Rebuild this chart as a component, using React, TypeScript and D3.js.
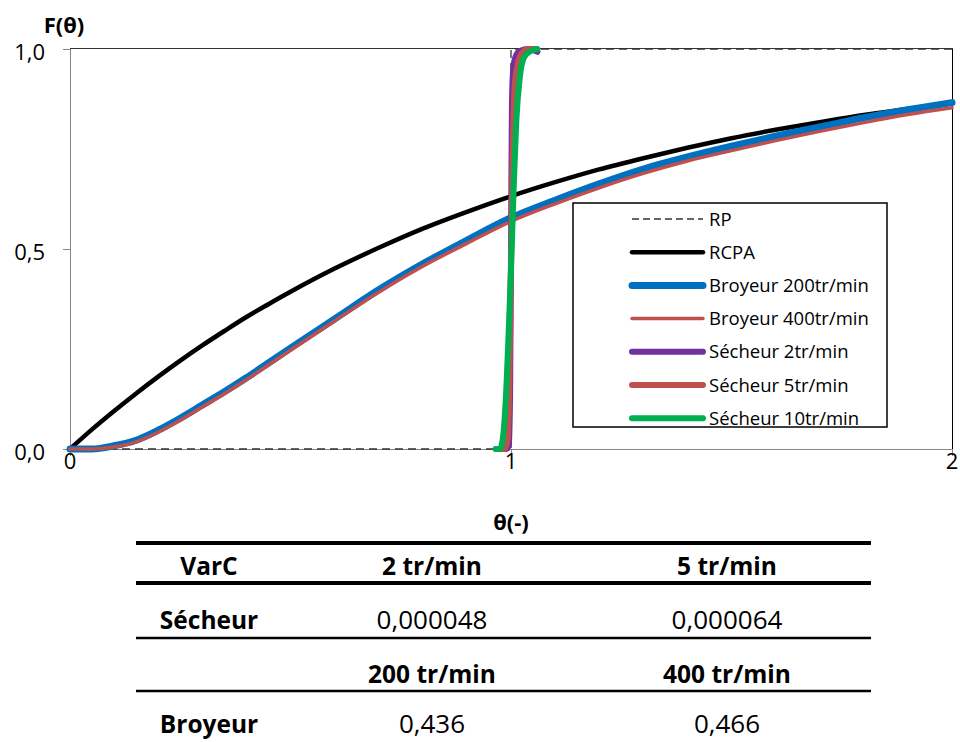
import React from "react";
import * as d3 from "d3";

// ---------- data ----------
const thetaGrid = [0, 0.05, 0.1, 0.15, 0.2, 0.25, 0.3, 0.35, 0.4, 0.45, 0.5, 0.6, 0.7, 0.8, 0.9, 1.0, 1.1, 1.2, 1.3, 1.4, 1.5, 1.6, 1.7, 1.8, 1.9, 2.0];
const rcpa = [0, 0.049, 0.095, 0.139, 0.181, 0.221, 0.259, 0.295, 0.33, 0.362, 0.393, 0.451, 0.503, 0.551, 0.593, 0.632, 0.667, 0.699, 0.727, 0.753, 0.777, 0.798, 0.817, 0.835, 0.85, 0.865];
const broyeur200 = [0, 0, 0.008, 0.022, 0.047, 0.077, 0.11, 0.143, 0.178, 0.215, 0.252, 0.325, 0.398, 0.463, 0.522, 0.578, 0.622, 0.663, 0.7, 0.73, 0.757, 0.782, 0.805, 0.828, 0.848, 0.866];
const broyeur400 = [0, 0, 0.005, 0.018, 0.042, 0.072, 0.105, 0.138, 0.173, 0.21, 0.247, 0.32, 0.392, 0.457, 0.514, 0.569, 0.613, 0.653, 0.689, 0.72, 0.746, 0.771, 0.794, 0.816, 0.836, 0.853];

const rpTheta = [0, 1, 1, 2];
const rpF = [0, 0, 1, 1];

const sech2Theta = [0.97, 0.99, 0.995, 0.998, 1.0, 1.002, 1.005, 1.01, 1.02, 1.04, 1.06];
const sech2F = [0, 0, 0.01, 0.15, 0.5, 0.85, 0.95, 0.98, 0.995, 1.0, 0.993];
const sech5Theta = [0.968, 0.985, 0.992, 0.996, 1.0, 1.004, 1.008, 1.015, 1.025, 1.04, 1.055];
const sech5F = [0, 0, 0.02, 0.15, 0.45, 0.75, 0.9, 0.96, 0.99, 1.0, 1.0];
const sech10Theta = [0.965, 0.975, 0.982, 0.988, 0.995, 1.0, 1.006, 1.012, 1.02, 1.03, 1.045, 1.06];
const sech10F = [0, 0, 0.03, 0.12, 0.3, 0.45, 0.65, 0.82, 0.93, 0.98, 0.995, 1.0];

const xTicks = [0, 1, 2];
const xTickLabels = ["0", "1", "2"];
const yTicks = [0, 0.5, 1];
const yTickLabels = ["0,0", "0,5", "1,0"];

const legendNames = ["RP", "RCPA", "Broyeur 200tr/min", "Broyeur 400tr/min", "Sécheur 2tr/min", "Sécheur 5tr/min", "Sécheur 10tr/min"];

const tableHeader1 = ["VarC", "2 tr/min", "5 tr/min"];
const tableRow1 = ["Sécheur", "0,000048", "0,000064"];
const tableHeader2 = ["", "200 tr/min", "400 tr/min"];
const tableRow2 = ["Broyeur", "0,436", "0,466"];

// ---------- styles ----------
const FONT = "'Open Sans', 'Noto Sans', sans-serif";
const styles = [
  { color: "#333333", width: 1.3, dash: "8,5" },
  { color: "#000000", width: 4.5, dash: null },
  { color: "#0070C0", width: 7, dash: null },
  { color: "#C0504D", width: 3.5, dash: null },
  { color: "#7030A0", width: 6, dash: null },
  { color: "#C0504D", width: 6, dash: null },
  { color: "#00B050", width: 6, dash: null },
];

export default function App() {
  const W = 960, H = 742;
  const x = d3.scaleLinear().domain([0, 2]).range([70, 952]);
  const y = d3.scaleLinear().domain([0, 1]).range([449, 49]);

  const smooth = d3.line<[number, number]>().x(d => x(d[0])).y(d => y(d[1])).curve(d3.curveMonotoneX);
  const straight = d3.line<[number, number]>().x(d => x(d[0])).y(d => y(d[1]));
  const zip = (a: number[], b: number[]) => a.map((v, i) => [v, b[i]] as [number, number]);

  const series = [
    { d: straight(zip(rpTheta, rpF)), s: styles[0] },
    { d: smooth(zip(thetaGrid, rcpa)), s: styles[1] },
    { d: smooth(zip(thetaGrid, broyeur200)), s: styles[2] },
    { d: smooth(zip(thetaGrid, broyeur400)), s: styles[3] },
    { d: smooth(zip(sech2Theta, sech2F)), s: styles[4] },
    { d: smooth(zip(sech5Theta, sech5F)), s: styles[5] },
    { d: smooth(zip(sech10Theta, sech10F)), s: styles[6] },
  ];

  const legX = 573, legY = 203, legW = 314, legH = 224;
  const rowY = (i: number) => 219 + i * 33.2;

  const colX = [209, 432, 727];
  const tableRows = [
    { cells: tableHeader1, y: 566, bold: [true, true, true] },
    { cells: tableRow1, y: 620, bold: [true, false, false] },
    { cells: tableHeader2, y: 674, bold: [true, true, true] },
    { cells: tableRow2, y: 724, bold: [true, false, false] },
  ];
  const tableLines = [
    { y: 543, w: 4 },
    { y: 583, w: 4 },
    { y: 638, w: 2.5 },
    { y: 691, w: 2.5 },
  ];

  return (
    <svg width={W} height={H} style={{ position: "absolute", left: 0, top: 0, background: "#fff" }} fontFamily={FONT}>
      <rect x={0} y={0} width={W} height={H} fill="#fff" />
      {/* plot frame */}
      <line x1={70} x2={952.5} y1={48.5} y2={48.5} stroke="#333" strokeWidth={1} />
      <line x1={952.5} x2={952.5} y1={48.5} y2={449} stroke="#000" strokeWidth={1} />
      {/* axes */}
      <line x1={70.5} x2={70.5} y1={49} y2={449.5} stroke="#868686" strokeWidth={1} />
      <line x1={70} x2={952} y1={449.5} y2={449.5} stroke="#868686" strokeWidth={1} />
      {yTicks.map((t, i) => (
        <g key={"yt" + i}>
          <line x1={63} x2={70} y1={Math.round(y(t)) + 0.5} y2={Math.round(y(t)) + 0.5} stroke="#868686" />
          <text x={45} y={y(t) + 11} textAnchor="end" fontSize={22} fill="#000">{yTickLabels[i]}</text>
        </g>
      ))}
      {xTicks.map((t, i) => (
        <g key={"xt" + i}>
          <line x1={Math.round(x(t)) + 0.5} x2={Math.round(x(t)) + 0.5} y1={449} y2={456} stroke="#868686" />
          <text x={x(t)} y={469} textAnchor="middle" fontSize={22} fill="#000">{xTickLabels[i]}</text>
        </g>
      ))}
      <text x={64} y={33} textAnchor="middle" fontSize={22} fontWeight="bold">F(θ)</text>
      <text x={511} y={530} textAnchor="middle" fontSize={22} fontWeight="bold">θ(-)</text>

      {/* series */}
      {series.map((sr, i) => (
        <path key={"s" + i} d={sr.d || ""} fill="none" stroke={sr.s.color} strokeWidth={sr.s.width}
          strokeDasharray={sr.s.dash || undefined} strokeLinecap={sr.s.dash ? "butt" : "round"} strokeLinejoin="round" />
      ))}

      {/* legend */}
      <rect x={legX} y={legY} width={legW} height={legH} fill="#fff" stroke="#000" strokeWidth={1.5} />
      {legendNames.map((n, i) => (
        <g key={"lg" + i}>
          <line x1={632} x2={703} y1={rowY(i)} y2={rowY(i)} stroke={styles[i].color}
            strokeWidth={i === 0 ? 1.4 : styles[i].width} strokeDasharray={i === 0 ? "7,4" : undefined}
            strokeLinecap={styles[i].dash ? "butt" : "round"} />
          <text x={709} y={rowY(i) + 6.5} fontSize={18.5} fill="#000">{n}</text>
        </g>
      ))}

      {/* table */}
      {tableLines.map((l, i) => (
        <line key={"tl" + i} x1={136} x2={871} y1={l.y} y2={l.y} stroke="#000" strokeWidth={l.w} />
      ))}
      {tableRows.map((r, ri) => r.cells.map((c, ci) => (
        <text key={"tc" + ri + "-" + ci} x={colX[ci]} y={r.y + 9} textAnchor="middle"
          fontSize={r.bold[ci] ? 24.5 : 26} fontWeight={r.bold[ci] ? "bold" : "normal"} fill="#000">{c}</text>
      )))}
    </svg>
  );
}
